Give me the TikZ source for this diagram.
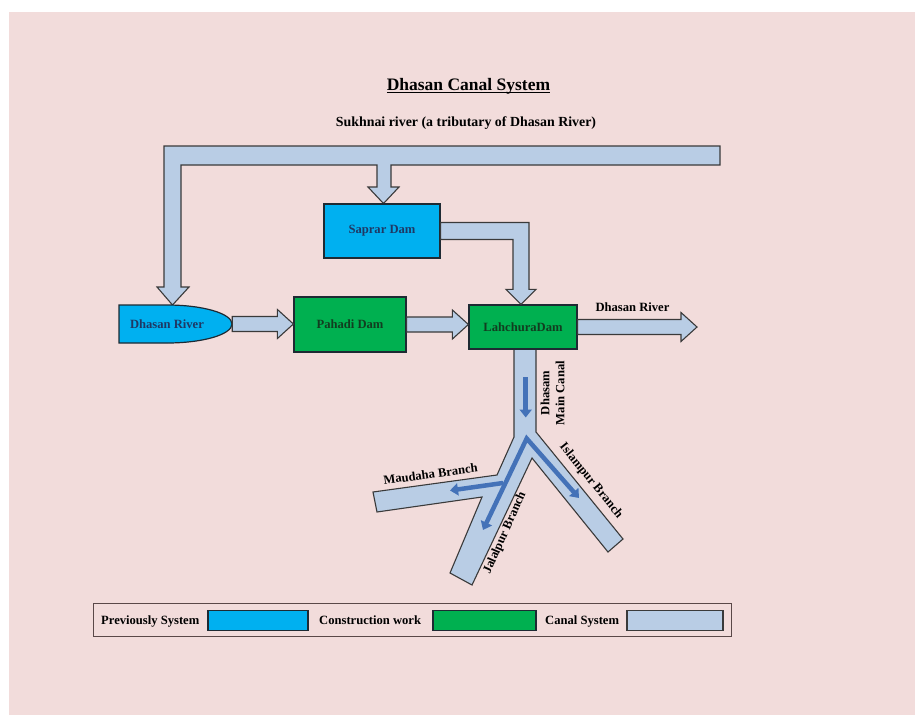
\documentclass[tikz,border=0pt]{standalone}
\usepackage{fontspec}
\setmainfont{Liberation Serif}
\usetikzlibrary{arrows.meta,calc}
\definecolor{bgpink}{HTML}{F2DCDB}
\definecolor{canalfill}{HTML}{B9CDE5}
\definecolor{canaledge}{HTML}{3A3A3A}
\definecolor{prevcyan}{HTML}{00B0F0}
\definecolor{constgreen}{HTML}{00B050}
\definecolor{boxedge}{HTML}{1E2A33}
\definecolor{navytext}{HTML}{1F3864}
\definecolor{greentext}{HTML}{123D20}
\definecolor{innerblue}{HTML}{4472B8}
\definecolor{legedge}{HTML}{5A4848}
\newcommand{\thickul}[1]{\setbox0\hbox{#1}\rlap{\rule[-3.2pt]{\wd0}{1.4pt}}\box0}
\newcommand{\hblockarrow}[2]{\draw[canal] let \p1=(#1), \p2=(#2) in (\x1,\y1+7.5pt) -- (\x2-16pt,\y1+7.5pt) -- (\x2-16pt,\y1+14.5pt) -- (\x2,\y1) -- (\x2-16pt,\y1-14.5pt) -- (\x2-16pt,\y1-7.5pt) -- (\x1,\y1-7.5pt) -- cycle;}
\begin{document}
\begin{tikzpicture}[x=1pt,y=-1pt,
  canal/.style={fill=canalfill, draw=canaledge, line width=1.1pt, line join=miter},
  prevbox/.style={fill=prevcyan, draw=boxedge, line width=1.2pt, inner sep=0},
  constbox/.style={fill=constgreen, draw=boxedge, line width=1.2pt, inner sep=0},
  lbl/.style={font=\fontsize{12.6}{15}\selectfont\bfseries, inner sep=0},
  flowtip/.style={-{Triangle[width=12pt,length=8pt]}},
  flow/.style={draw=innerblue, line width=4.5pt, flowtip}
]
\useasboundingbox (0,0) rectangle (915,715);
\fill[bgpink] (9,12) rectangle (915,715);

% titles
\node[font=\fontsize{17.5}{20}\selectfont\bfseries, anchor=base, inner sep=0] (title) at (468.5,90) {\thickul{Dhasan Canal System}};
\node[font=\fontsize{13.9}{16}\selectfont\bfseries, anchor=base, inner sep=0] (sub) at (466,126) {Sukhnai river (a tributary of Dhasan River)};

% Sukhnai river canal (top band with two outlets)
\draw[canal] (720,146) -- (164,146) -- (164,287) -- (157,287) -- (172.5,305) -- (189,287) -- (181,287) -- (181,165) -- (377,165) -- (377,187) -- (368,187) -- (383.5,203.5) -- (399,187) -- (391,187) -- (391,165) -- (720,165) -- cycle;

% main canal and branches
\fill[canalfill] (514,349) -- (514,437) -- (497,475) -- (373,492) -- (377,512) -- (482,497) -- (450,573) -- (472,585) -- (532,458) -- (608,552) -- (623,539) -- (536,432) -- (536,349) -- cycle;
\draw[canaledge, line width=1.1pt] (514,349) -- (514,437) -- (497,475) -- (373,492) -- (377,512) -- (482,497) -- (450,573) -- (472,585) -- (532,458) -- (608,552) -- (623,539) -- (536,432) -- (536,349);

% boxes
\node[prevbox, minimum width=116, minimum height=54, font=\fontsize{12.6}{15}\selectfont\bfseries, text=navytext] (saprar) at (382,231) {Saprar Dam};
\node[constbox, minimum width=112, minimum height=55, font=\fontsize{12.6}{15}\selectfont\bfseries, text=greentext] (pahadi) at (350,324.5) {Pahadi Dam};
\node[constbox, minimum width=108, minimum height=44, font=\fontsize{12.6}{15}\selectfont\bfseries, text=greentext] (lahchura) at (523,327) {LahchuraDam};

% Dhasan River source shape
\node[minimum width=113, minimum height=38, inner sep=0] (dr) at (175.5,324) {};
\draw[fill=prevcyan, draw=boxedge, line width=1.2pt] (119,305) -- (167,305) .. controls (203,305) and (232,313.5) .. (232,324) .. controls (232,334.5) and (203,343) .. (167,343) -- (119,343) -- cycle;
\node[lbl, text=navytext] (drlbl) at (167,324) {Dhasan River};

% connectors
\hblockarrow{dr.east}{pahadi.west}
\hblockarrow{pahadi.east}{lahchura.west}
\coordinate (rivout) at (697,325);
\hblockarrow{lahchura.east}{rivout}
\draw[canal] let \p1=(saprar.east), \p2=(lahchura.north) in
 (\x1,\y1+8.5pt) -- (\x2+6pt,\y1+8.5pt) -- (\x2+6pt,\y2+15pt) -- (\x2+13pt,\y2+15pt) -- (\x2-2pt,\y2) -- (\x2-17pt,\y2+15pt) -- (\x2-10pt,\y2+15pt) -- (\x2-10pt,\y1-8.5pt) -- (\x1,\y1-8.5pt) -- cycle;
\node[lbl, anchor=base] (rivlbl) at (632.5,311.5) {Dhasan River};

% flow arrows in canals
\coordinate (mcA) at (525.7,377);
\coordinate (mcB) at (525.7,417.5);
\draw[flow] (mcA) -- (mcB);
\coordinate (apex) at (526.7,438.5);
\coordinate (jalT) at (483,530);
\coordinate (islT) at (579,498);
\draw[draw=innerblue, line width=4.5pt, line join=miter, {Triangle[width=12pt,length=8pt]}-{Triangle[width=12pt,length=8pt]}] (jalT) -- (apex) -- (islT);
\coordinate (mauS) at (503,483);
\coordinate (mauT) at (450,490.5);
\draw[flow] (mauS) -- (mauT);

% canal labels
\node[lbl, rotate=90, align=center] (mclbl) at (552.5,393) {Dhasam\\Main Canal};
\node[lbl, rotate=7.5] (maulbl) at (430.5,474) {Maudaha Branch};
\node[lbl, rotate=66] (jallbl) at (505,533) {Jalalpur Branch};
\node[lbl, rotate=-51] (isllbl) at (591,481) {Islampur Branch};

% legend
\node[draw=legedge, line width=0.8pt, minimum width=638, minimum height=33, inner sep=0] (legend) at (412,619.5) {};
\node[lbl, anchor=base west] (l1) at (101,624) {Previously System};
\node[prevbox, minimum width=100, minimum height=20] (k1) at (258,620.5) {};
\node[lbl, anchor=base west] (l2) at (319,624) {Construction work};
\node[constbox, minimum width=103, minimum height=20] (k2) at (484.5,620.5) {};
\node[lbl, anchor=base west] (l3) at (545,624) {Canal System};
\node[canal, minimum width=96, minimum height=20, inner sep=0] (k3) at (675,620.5) {};
\end{tikzpicture}
\end{document}
